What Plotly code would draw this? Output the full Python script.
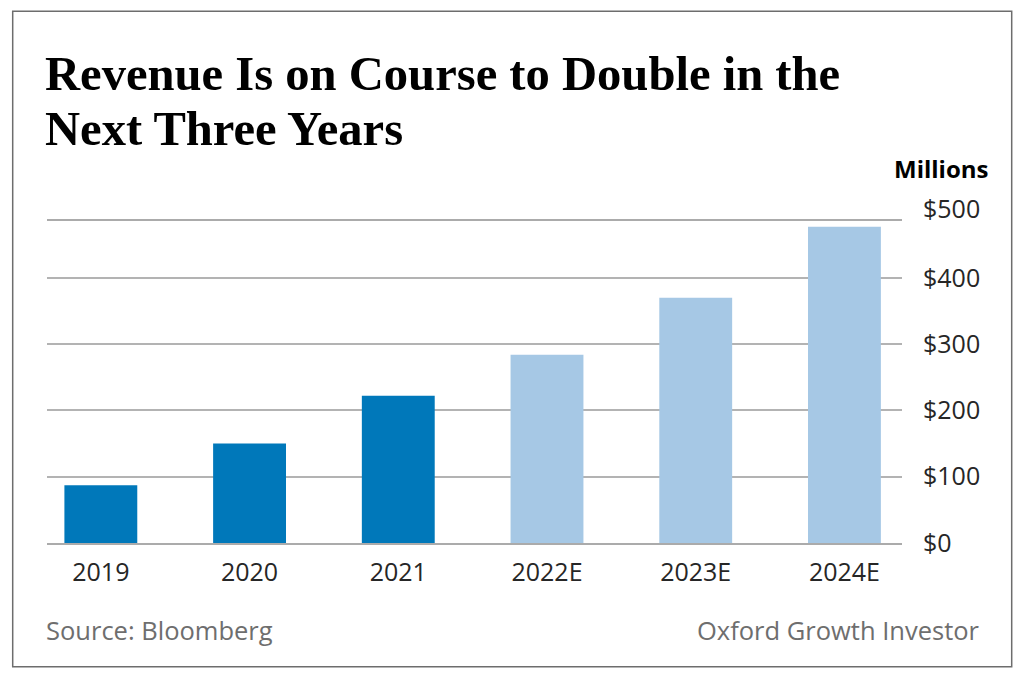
import plotly.graph_objects as go

categories = ["2019", "2020", "2021", "2022E", "2023E", "2024E"]
revenue = [87, 150, 222, 284, 370, 477]
is_estimate = [False, False, False, True, True, True]
y_tick_values = [0, 100, 200, 300, 400]
y_tick_labels = ["$0", "$100", "$200", "$300", "$400"]
top_tick_label = "$500"

ACTUAL = "#0078BA"
ESTIMATE = "#A6C8E5"
FONT = "Open Sans"

# page body margin offset (the figure is drawn 8px in from the window corner)
OFF = 8
W, H = 1008, 661
L = 47 - OFF
T = 221 - OFF
R = W - (902 - OFF)
B = H - (543 - OFF)
pw, ph = W - L - R, H - T - B

def px_x(px):
    return (px - OFF - L) / pw

def px_y(py):
    return (H - B - (py - OFF)) / ph

fig = go.Figure()
fig.add_trace(go.Bar(
    x=categories, y=revenue,
    marker=dict(color=[ESTIMATE if e else ACTUAL for e in is_estimate], line=dict(width=0)),
    width=0.49, hoverinfo="x+y",
))

fig.update_layout(
    width=W, height=H,
    margin=dict(l=L, r=R, t=T, b=B, pad=0),
    paper_bgcolor="white", plot_bgcolor="white",
    showlegend=False,
    font=dict(family=FONT, size=25, color="#262626"),
    xaxis=dict(
        type="category", range=[-0.362, 5.387],
        showgrid=False, showline=True, mirror=True,
        linecolor="#ababab", linewidth=1.5,
        ticks="outside", ticklen=6, tickcolor="rgba(0,0,0,0)",
        tickfont=dict(family=FONT, size=25, color="#262626"),
    ),
    yaxis=dict(
        range=[0, 485.7], side="right",
        tickvals=y_tick_values, ticktext=y_tick_labels,
        showgrid=True, gridcolor="#b3b3b3", gridwidth=1.5,
        zeroline=False, showline=False,
        ticks="outside", ticklen=15, tickcolor="rgba(0,0,0,0)",
        tickfont=dict(family=FONT, size=25, color="#262626"),
    ),
    shapes=[dict(
        type="rect", xref="paper", yref="paper",
        x0=px_x(12.7), x1=px_x(1011.7), y0=px_y(666.7), y1=px_y(11.3),
        line=dict(color="#6d6d6d", width=1.5), fillcolor="rgba(0,0,0,0)", layer="below",
    )],
    annotations=[
        dict(text="<b>Revenue Is on Course to Double in the</b>", xref="paper", yref="paper",
             x=px_x(43), y=px_y(74), xanchor="left", yanchor="middle", showarrow=False,
             font=dict(family="Liberation Serif", size=48.6, color="#000000")),
        dict(text="<b>Next Three Years</b>", xref="paper", yref="paper",
             x=px_x(43), y=px_y(129), xanchor="left", yanchor="middle", showarrow=False,
             font=dict(family="Liberation Serif", size=48.6, color="#000000")),
        dict(text="<b>Millions</b>", xref="paper", yref="paper",
             x=px_x(991), y=px_y(168), xanchor="right", yanchor="middle", showarrow=False,
             font=dict(family=FONT, size=24, color="#000000")),
        dict(text=top_tick_label, xref="paper", yref="paper",
             x=px_x(921), y=px_y(208), xanchor="left", yanchor="middle", showarrow=False,
             font=dict(family=FONT, size=25, color="#262626")),
        dict(text="Source: Bloomberg", xref="paper", yref="paper",
             x=px_x(44), y=px_y(630), xanchor="left", yanchor="middle", showarrow=False,
             font=dict(family=FONT, size=25.5, color="#6e6e6e")),
        dict(text="Oxford Growth Investor", xref="paper", yref="paper",
             x=px_x(982), y=px_y(630), xanchor="right", yanchor="middle", showarrow=False,
             font=dict(family=FONT, size=25.5, color="#6e6e6e")),
    ],
)

fig.write_html("out.html")
